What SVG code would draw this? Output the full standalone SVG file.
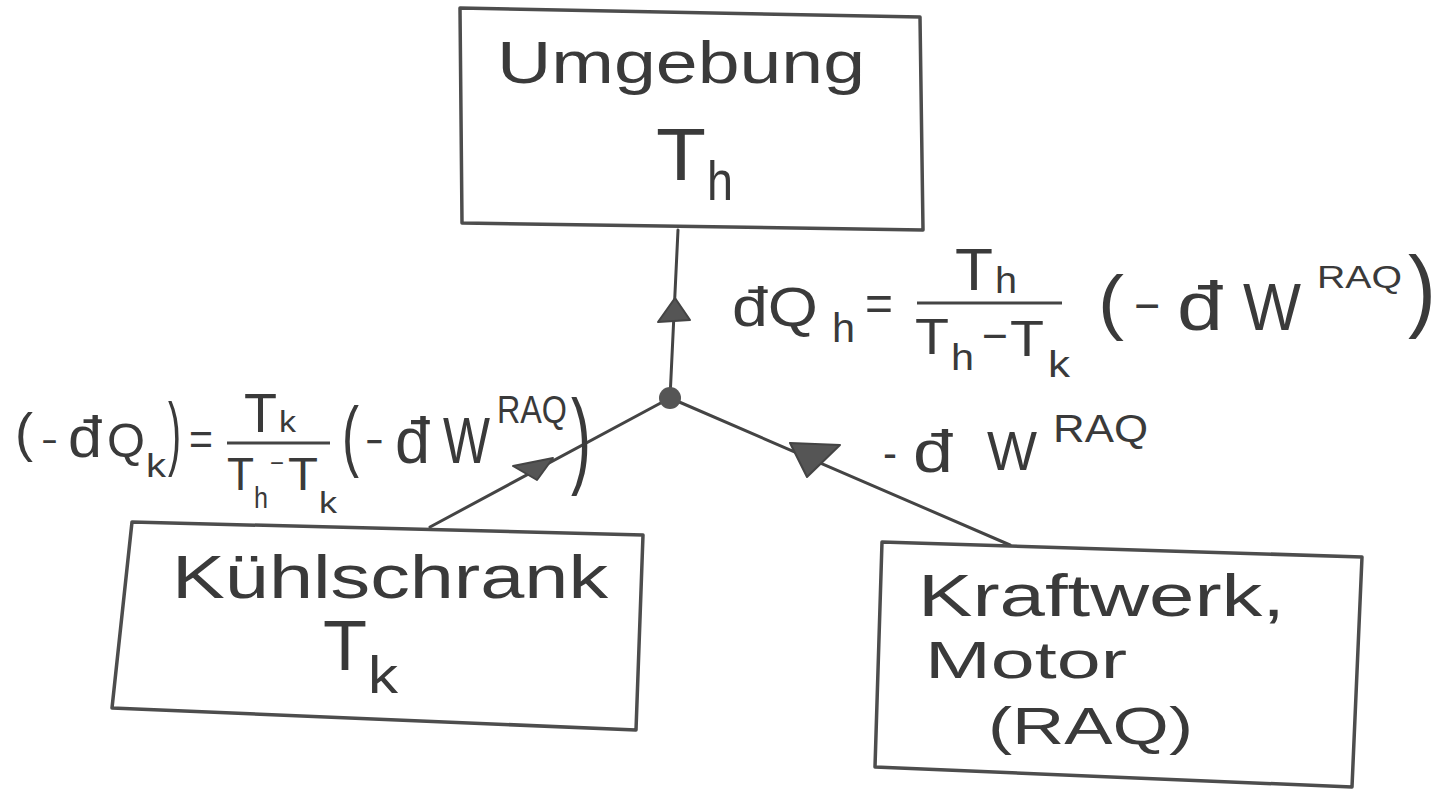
<svg xmlns="http://www.w3.org/2000/svg" width="1447" height="791" viewBox="0 0 1447 791">
<style>
.box{fill:none;stroke:#4d4d4d;stroke-width:3.5;stroke-linejoin:round}
.edge{fill:none;stroke:#444;stroke-width:3;stroke-linecap:round}
.head{fill:#555;stroke:#444;stroke-width:2;stroke-linejoin:round}
.bar{stroke:#444;stroke-width:3}
.t{font-family:"Liberation Sans",Arial,sans-serif;fill:#3a3a3a}
</style>
<rect width="1447" height="791" fill="#ffffff"/>
<g id="connectors">
<path class="edge" d="M678 230 L670 398"/>
<path class="edge" d="M670 398 L430 527"/>
<path class="edge" d="M670 398 L1010 545"/>
<polygon class="head" points="675,298 658,322 690,320"/>
<polygon class="head" points="553,458 513,466 537,480"/>
<polygon class="head" points="790,443 840,445 807,477"/>
<circle cx="670" cy="398" r="11" fill="#555"/>
</g>
<g id="umgebung">
<polygon class="box" points="460,8 920,17 923,230 462,223"/>
<text class="t" font-size="60" x="497" y="83" textLength="368" lengthAdjust="spacingAndGlyphs">Umgebung</text>
<text class="t" font-size="74" x="656" y="180" textLength="50" lengthAdjust="spacingAndGlyphs">T</text>
<text class="t" font-size="56" x="707" y="200" textLength="26" lengthAdjust="spacingAndGlyphs">h</text>
</g>
<g id="kuehlschrank">
<polygon class="box" points="132,522 643,535 636,730 112,708"/>
<text class="t" font-size="62" x="172" y="598" textLength="436" lengthAdjust="spacingAndGlyphs">Kühlschrank</text>
<text class="t" font-size="70" x="323" y="670" textLength="44" lengthAdjust="spacingAndGlyphs">T</text>
<text class="t" font-size="52" x="368" y="693" textLength="30" lengthAdjust="spacingAndGlyphs">k</text>
</g>
<g id="kraftwerk">
<polygon class="box" points="882,542 1362,557 1352,787 875,767"/>
<text class="t" font-size="60" x="918" y="616" textLength="367" lengthAdjust="spacingAndGlyphs">Kraftwerk,</text>
<text class="t" font-size="52" x="925" y="678" textLength="202" lengthAdjust="spacingAndGlyphs">Motor</text>
<text class="t" font-size="52" x="988" y="744" textLength="205" lengthAdjust="spacingAndGlyphs">(RAQ)</text>
</g>
<g id="label-qh">
<text class="t" font-size="56" x="732" y="326" textLength="86" lengthAdjust="spacingAndGlyphs">đQ</text>
<text class="t" font-size="40" x="832" y="342" textLength="23" lengthAdjust="spacingAndGlyphs">h</text>
<text class="t" font-size="50" x="865" y="320" textLength="28" lengthAdjust="spacingAndGlyphs">=</text>
<text class="t" font-size="60" x="955" y="290" textLength="38" lengthAdjust="spacingAndGlyphs">T</text>
<text class="t" font-size="36" x="995" y="293" textLength="22" lengthAdjust="spacingAndGlyphs">h</text>
<line class="bar" x1="917" y1="303" x2="1062" y2="303"/>
<text class="t" font-size="50" x="915" y="354" textLength="34" lengthAdjust="spacingAndGlyphs">T</text>
<text class="t" font-size="36" x="951" y="370" textLength="23" lengthAdjust="spacingAndGlyphs">h</text>
<text class="t" font-size="44" x="982" y="351" textLength="26" lengthAdjust="spacingAndGlyphs">−</text>
<text class="t" font-size="50" x="1010" y="356" textLength="34" lengthAdjust="spacingAndGlyphs">T</text>
<text class="t" font-size="36" x="1048" y="377" textLength="22" lengthAdjust="spacingAndGlyphs">k</text>
<text class="t" font-size="72" x="1098" y="326" textLength="26" lengthAdjust="spacingAndGlyphs">(</text>
<text class="t" font-size="50" x="1134" y="323" textLength="26" lengthAdjust="spacingAndGlyphs">−</text>
<text class="t" font-size="68" x="1177" y="330" textLength="46" lengthAdjust="spacingAndGlyphs">đ</text>
<text class="t" font-size="66" x="1243" y="330" textLength="58" lengthAdjust="spacingAndGlyphs">W</text>
<text class="t" font-size="32" x="1317" y="288" textLength="85" lengthAdjust="spacingAndGlyphs">RAQ</text>
<text class="t" font-size="90" x="1408" y="320" textLength="28" lengthAdjust="spacingAndGlyphs">)</text>
</g>
<g id="label-qk">
<text class="t" font-size="54" x="15" y="451" textLength="18" lengthAdjust="spacingAndGlyphs">(</text>
<text class="t" font-size="40" x="42" y="455" textLength="15" lengthAdjust="spacingAndGlyphs">−</text>
<text class="t" font-size="58" x="68" y="457" textLength="34" lengthAdjust="spacingAndGlyphs">đ</text>
<text class="t" font-size="48" x="107" y="457" textLength="38" lengthAdjust="spacingAndGlyphs">Q</text>
<text class="t" font-size="34" x="146" y="477" textLength="20" lengthAdjust="spacingAndGlyphs">k</text>
<text class="t" font-size="44" transform="translate(168,460) scale(1,1.85)" x="0" y="0" textLength="13" lengthAdjust="spacingAndGlyphs">)</text>
<text class="t" font-size="46" x="189" y="455" textLength="24" lengthAdjust="spacingAndGlyphs">=</text>
<text class="t" font-size="56" x="244" y="432" textLength="33" lengthAdjust="spacingAndGlyphs">T</text>
<text class="t" font-size="30" x="279" y="432" textLength="17" lengthAdjust="spacingAndGlyphs">k</text>
<line class="bar" x1="227" y1="443" x2="330" y2="443"/>
<text class="t" font-size="46" x="227" y="490" textLength="27" lengthAdjust="spacingAndGlyphs">T</text>
<text class="t" font-size="30" x="254" y="508" textLength="14" lengthAdjust="spacingAndGlyphs">h</text>
<text class="t" font-size="26" x="270" y="472" textLength="14" lengthAdjust="spacingAndGlyphs">−</text>
<text class="t" font-size="46" x="288" y="490" textLength="30" lengthAdjust="spacingAndGlyphs">T</text>
<text class="t" font-size="30" x="319" y="513" textLength="18" lengthAdjust="spacingAndGlyphs">k</text>
<text class="t" font-size="50" transform="translate(342,462) scale(1,1.56)" x="0" y="0" textLength="17" lengthAdjust="spacingAndGlyphs">(</text>
<text class="t" font-size="46" x="366" y="457" textLength="17" lengthAdjust="spacingAndGlyphs">−</text>
<text class="t" font-size="64" x="395" y="463" textLength="35" lengthAdjust="spacingAndGlyphs">đ</text>
<text class="t" font-size="64" x="443" y="463" textLength="47" lengthAdjust="spacingAndGlyphs">W</text>
<text class="t" font-size="32" transform="translate(497,423) scale(1,1.2)" x="0" y="0" textLength="70" lengthAdjust="spacingAndGlyphs">RAQ</text>
<text class="t" font-size="60" transform="translate(571,474) scale(1,1.77)" x="0" y="0" textLength="20" lengthAdjust="spacingAndGlyphs">)</text>
</g>
<g id="label-w">
<text class="t" font-size="46" x="883" y="469" textLength="14" lengthAdjust="spacingAndGlyphs">-</text>
<text class="t" font-size="60" x="913" y="472" textLength="40" lengthAdjust="spacingAndGlyphs">đ</text>
<text class="t" font-size="56" x="987" y="470" textLength="50" lengthAdjust="spacingAndGlyphs">W</text>
<text class="t" font-size="38" x="1053" y="442" textLength="95" lengthAdjust="spacingAndGlyphs">RAQ</text>
</g>
</svg>
